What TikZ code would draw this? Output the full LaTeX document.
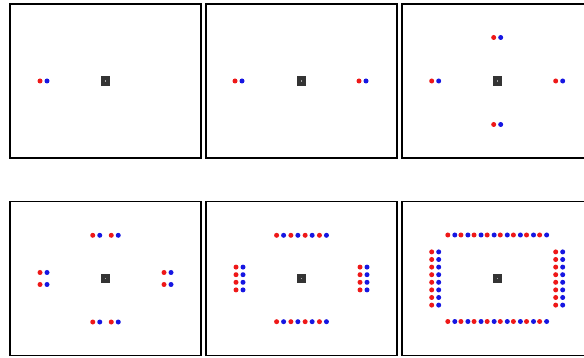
\documentclass[tikz,border=0pt]{standalone}
\usepackage{tikz}
\definecolor{redpt}{RGB}{238,24,24}
\definecolor{bluept}{RGB}{22,22,226}
\definecolor{boxgray}{RGB}{52,52,52}

% one red/blue pair, red on the left
\newcommand{\dotpair}[2]{%
  \fill[rdot] (#1-3.5,#2) circle (2.5pt);
  \fill[bdot] (#1+3.5,#2) circle (2.5pt);
}
% frame and centre square of one panel
\newcommand{\panelframe}{%
  \draw[frame] (-95.5,-77) rectangle (95.5,77);
  \fill[boxgray] (-4.6,-4.6) rectangle (4.6,4.6);
  \fill[gray!70] (-0.7,-0.7) rectangle (0.7,0.7);
}

\begin{document}
\begin{tikzpicture}[
  x=1pt, y=-1pt,
  frame/.style={draw=black, line width=1.7pt},
  rdot/.style={fill=redpt},
  bdot/.style={fill=bluept}
]
  \useasboundingbox (0,0) rectangle (584,358);
  \clip (0,0) rectangle (584,358);
  \fill[white] (0,0) rectangle (584,358);

  % Top row
  \begin{scope}[shift={(105.5,81)}]
    \panelframe
    \dotpair{-62}{0}
  \end{scope}

  \begin{scope}[shift={(301.5,81)}]
    \panelframe
    \dotpair{-63}{0}
    \dotpair{61}{0}
  \end{scope}

  \begin{scope}[shift={(497.2,81)}]
    \panelframe
    \dotpair{-62}{0}
    \dotpair{62}{0}
    \dotpair{0}{-43.5}
    \dotpair{0}{43.5}
  \end{scope}

  % Bottom row
  \begin{scope}[shift={(105.5,278.5)}]
    \panelframe
    \foreach \u in {-9.25,9.25} {
      \dotpair{\u}{-43.2}
      \dotpair{\u}{43.5}
    }
    \foreach \v in {-6,6} {
      \dotpair{-62}{\v}
      \dotpair{62}{\v}
    }
  \end{scope}

  \begin{scope}[shift={(301.5,278.5)}]
    \panelframe
    \foreach \k in {0,...,3} {
      \dotpair{-21.4+14.28*\k}{-43.2}
      \dotpair{-21.4+14.28*\k}{43.2}
      \dotpair{-62}{-11.4+7.6*\k}
      \dotpair{62}{-11.4+7.6*\k}
    }
  \end{scope}

  \begin{scope}[shift={(497.2,278.5)}]
    \panelframe
    \foreach \k in {0,...,7} {
      \dotpair{-45.9+13.12*\k}{-43.5}
      \dotpair{-45.9+13.12*\k}{43}
    }
    \foreach \k in {0,...,7} {
      \dotpair{-62}{-26.6+7.6*\k}
      \dotpair{62}{-26.6+7.6*\k}
    }
  \end{scope}
\end{tikzpicture}
\end{document}
